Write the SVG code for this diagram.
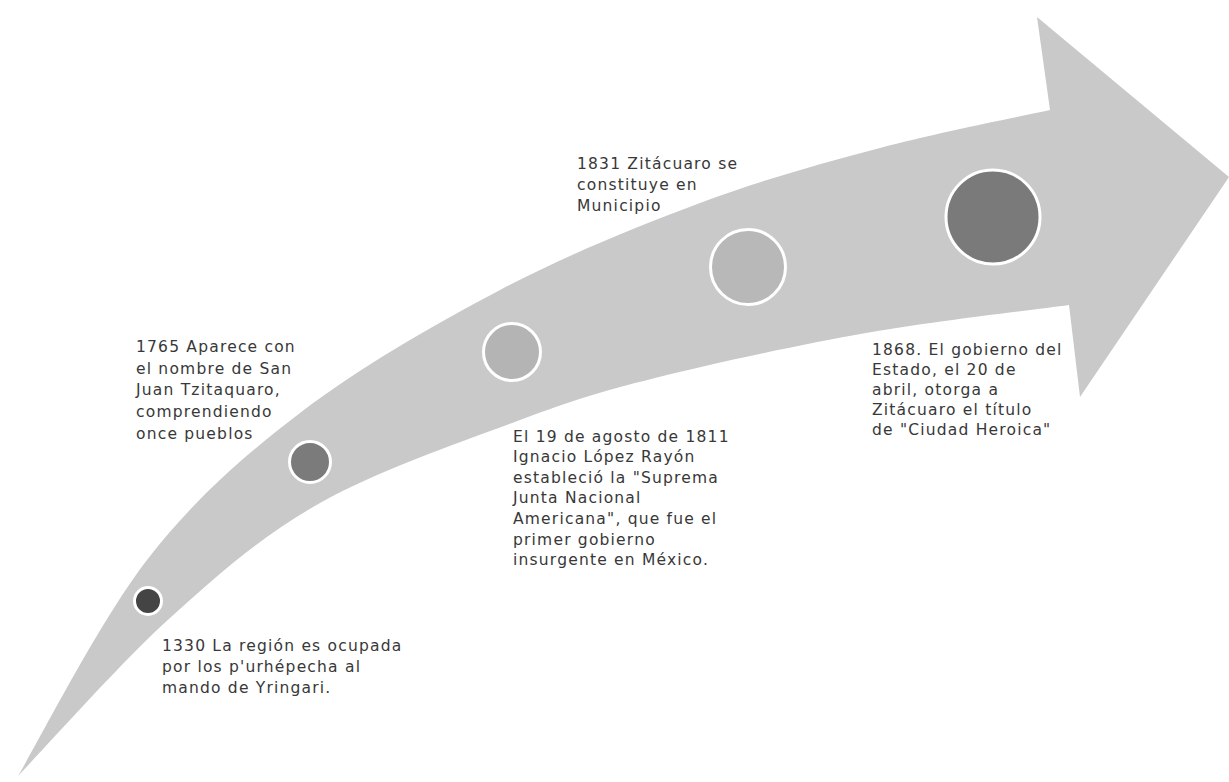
<svg xmlns="http://www.w3.org/2000/svg" width="1229" height="782" viewBox="0 0 1229 782">
<style>
.t{font-family:"DejaVu Sans","Liberation Sans",sans-serif;font-size:15.5px;letter-spacing:1.2px;fill:#383838}
.dot{stroke:#ffffff;stroke-width:3}
</style>
<rect width="1229" height="782" fill="#ffffff"/>
<g id="arrow">
<path fill="#c9c9c9" d="M18,776 C39.5,740 100,620.5 147,560 C194,499.5 241.2,458 300,413 C358.8,368 433.3,325 500,290 C566.7,255 636.7,226.7 700,203 C763.3,179.3 821.7,163.5 880,148 C938.3,132.5 1021.7,116.3 1050,110 L1037,17 L1229,177 L1080,397 L1069,305 C1035.2,309.7 935,320.8 866,333 C797,345.2 712.7,363.5 655,378 C597.3,392.5 575.8,399.2 520,420 C464.2,440.8 378.3,470 320,503 C261.7,536 220.3,572.5 170,618 C119.7,663.5 43.3,749.7 18,776 Z"/>
</g>
<g id="connectors"></g>
<g id="n1330">
<circle class="dot" cx="148" cy="601" r="13.5" fill="#444444"/>
<text class="t"><tspan x="162" y="651">1330 La región es ocupada</tspan><tspan x="162" y="672">por los p'urhépecha al</tspan><tspan x="162" y="693">mando de Yringari.</tspan></text>
</g>
<g id="n1765">
<circle class="dot" cx="310" cy="462" r="20.5" fill="#7b7b7b"/>
<text class="t"><tspan x="136" y="352">1765 Aparece con</tspan><tspan x="136" y="373.7">el nombre de San</tspan><tspan x="136" y="395.3">Juan Tzitaquaro,</tspan><tspan x="136" y="417">comprendiendo</tspan><tspan x="136" y="438.7">once pueblos</tspan></text>
</g>
<g id="n1811">
<circle class="dot" cx="512" cy="352" r="28.5" fill="#b4b4b4"/>
<text class="t"><tspan x="513" y="441.7">El 19 de agosto de 1811</tspan><tspan x="513" y="462.3">Ignacio López Rayón</tspan><tspan x="513" y="482.7">estableció la "Suprema</tspan><tspan x="513" y="503.3">Junta Nacional</tspan><tspan x="513" y="524">Americana", que fue el</tspan><tspan x="513" y="544.5">primer gobierno</tspan><tspan x="513" y="565">insurgente en México.</tspan></text>
</g>
<g id="n1831">
<circle class="dot" cx="748" cy="267" r="37.5" fill="#b8b8b8"/>
<text class="t"><tspan x="577" y="169">1831 Zitácuaro se</tspan><tspan x="577" y="190">constituye en</tspan><tspan x="577" y="211">Municipio</tspan></text>
</g>
<g id="n1868">
<circle class="dot" cx="993" cy="217" r="47" fill="#7a7a7a"/>
<text class="t"><tspan x="872" y="355">1868. El gobierno del</tspan><tspan x="872" y="375">Estado, el 20 de</tspan><tspan x="872" y="395">abril, otorga a</tspan><tspan x="872" y="415">Zitácuaro el título</tspan><tspan x="872" y="435">de "Ciudad Heroica"</tspan></text>
</g>
</svg>
